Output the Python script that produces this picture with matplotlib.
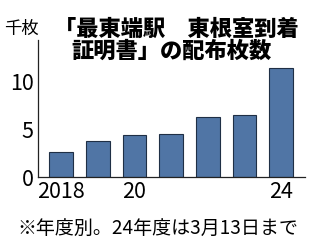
import matplotlib
matplotlib.use("Agg")
import matplotlib.pyplot as plt

plt.rcParams['font.family'] = ['Noto Sans CJK JP', 'DejaVu Sans']

years = [2018, 2019, 2020, 2021, 2022, 2023, 2024]
values = [2.57, 3.75, 4.34, 4.44, 6.25, 6.45, 11.35]
xtick_pos = [2018, 2020, 2024]
xtick_labels = ["2018", "20", "24"]
ytick_pos = [0, 5, 10]
ytick_labels = ["0", "5", "10"]

fig = plt.figure(figsize=(3.2, 2.46), dpi=100)
ax = fig.add_axes([38/320, 1-177/246, (305-38)/320, (177-40)/246])
ax.bar(years, values, width=0.65, color='#5075a5', edgecolor='#1f2f45', linewidth=0.8)
ax.set_xlim(2018-0.63, 2024+0.65)
ax.set_ylim(0, 14.3)
ax.set_xticks(xtick_pos)
ax.set_xticklabels(xtick_labels)
ax.set_yticks(ytick_pos)
ax.set_yticklabels(ytick_labels)
ax.tick_params(length=0, labelsize=15.5, pad=3)
for s in ['top', 'right']:
    ax.spines[s].set_visible(False)
for s in ['left', 'bottom']:
    ax.spines[s].set_linewidth(0.9)
    ax.spines[s].set_color('#222222')

fig.text(4/320, 1-29/246, "千枚", fontsize=12.5, va='center', ha='left')
fig.text(176/320, 1-29/246, "「最東端駅　東根室到着", fontsize=16, fontweight='black', va='center', ha='center')
fig.text(172/320, 1-51/246, "証明書」の配布枚数", fontsize=16, fontweight='black', va='center', ha='center')
fig.text(17/320, 1-229/246, "※年度別。24年度は3月13日まで", fontsize=13.7, va='center', ha='left')

fig.savefig("out.png", dpi=100)
